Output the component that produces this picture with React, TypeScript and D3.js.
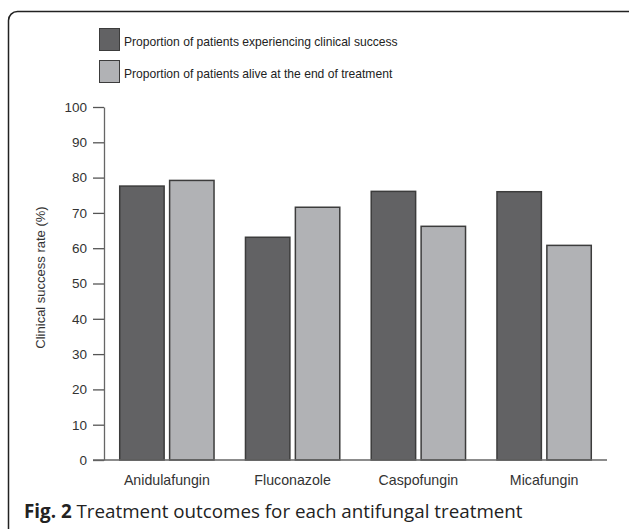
import React, { useEffect, useRef } from 'react';
import * as d3 from 'd3';

const categories = ['Anidulafungin', 'Fluconazole', 'Caspofungin', 'Micafungin'];
const seriesNames = [
    'Proportion of patients experiencing clinical success',
    'Proportion of patients alive at the end of treatment',
];
const clinicalSuccess = [77.6, 63.1, 76.1, 76.0];
const aliveAtEnd = [79.2, 71.6, 66.2, 60.8];
const yTicks = [0, 10, 20, 30, 40, 50, 60, 70, 80, 90, 100];

const colors = ['#626264', '#b1b2b5'];

const App: React.FC = () => {
    const ref = useRef<SVGSVGElement | null>(null);

    useEffect(() => {
        if (!ref.current) return;
        const svg = d3.select(ref.current);
        svg.selectAll('*').remove();

        const font = 'Liberation Sans, Arial, sans-serif';
        const left = 104;
        const right = 607;
        const top = 107;
        const bottom = 460;

        // frame
        svg.append('rect')
            .attr('x', 8.5).attr('y', 11.5)
            .attr('width', 630).attr('height', 530)
            .attr('rx', 9)
            .attr('fill', 'none')
            .attr('stroke', '#222')
            .attr('stroke-width', 1.5);

        const x0 = d3.scaleBand().domain(categories).range([left, right]).padding(0);
        const x1 = d3.scaleBand().domain(['a', 'b'])
            .range([0, x0.bandwidth()])
            .paddingInner(0.08)
            .paddingOuter(0.3);
        const y = d3.scaleLinear().domain([0, 100]).range([bottom, top]);

        // y axis
        const yAxis = d3.axisLeft(y).tickValues(yTicks).tickSize(11).tickPadding(6).tickSizeOuter(0);
        const gy = svg.append('g').attr('transform', `translate(${left},0)`).call(yAxis);
        gy.select('.domain').attr('stroke', '#666').attr('stroke-width', 1.3);
        gy.selectAll('.tick line').attr('stroke', '#555').attr('stroke-width', 1.3);
        gy.selectAll('.tick text')
            .attr('font-family', font).attr('font-size', 13.5).attr('fill', '#333');

        svg.append('text')
            .attr('transform', `translate(45,${(top + bottom) / 2 - 6}) rotate(-90)`)
            .attr('text-anchor', 'middle')
            .attr('font-family', font).attr('font-size', 13).attr('fill', '#333')
            .text('Clinical success rate (%)');

        // bars
        const rows = categories.map((c, i) => ({ c, vals: [clinicalSuccess[i], aliveAtEnd[i]] }));
        const groups = svg.append('g').selectAll('g').data(rows).enter().append('g')
            .attr('transform', (d) => `translate(${x0(d.c)},0)`);
        groups.selectAll('rect')
            .data((d) => d.vals.map((v, j) => ({ v, j })))
            .enter().append('rect')
            .attr('x', (d) => (x1(d.j === 0 ? 'a' : 'b') as number) + 0.75)
            .attr('y', (d) => y(d.v))
            .attr('width', x1.bandwidth() - 1.5)
            .attr('height', (d) => bottom - y(d.v))
            .attr('fill', (d) => colors[d.j])
            .attr('stroke', '#3c3c3c')
            .attr('stroke-width', 1.5);

        // x axis line (extends left as the 0 tick)
        svg.append('line')
            .attr('x1', 93).attr('x2', right)
            .attr('y1', bottom).attr('y2', bottom)
            .attr('stroke', '#666').attr('stroke-width', 1.3);

        svg.append('g').selectAll('text').data(categories).enter().append('text')
            .attr('x', (d) => (x0(d) as number) + x0.bandwidth() / 2)
            .attr('y', 484.5)
            .attr('text-anchor', 'middle')
            .attr('font-family', font).attr('font-size', 14.2).attr('fill', '#333')
            .text((d) => d);

        // legend
        const legend = svg.append('g').selectAll('g').data(seriesNames).enter().append('g')
            .attr('transform', (_d, i) => `translate(99,${28 + i * 32})`);
        legend.append('rect')
            .attr('x', 0.5).attr('y', 0.5).attr('width', 20).attr('height', 22)
            .attr('fill', (_d, i) => colors[i])
            .attr('stroke', '#3c3c3c').attr('stroke-width', 1);
        legend.append('text')
            .attr('x', 25).attr('y', 18.3)
            .attr('font-family', font).attr('font-size', 12.1).attr('fill', '#222')
            .text((d) => d);

        // caption
        const cap = svg.append('text')
            .attr('x', 24).attr('y', 518)
            .attr('font-family', 'Open Sans, sans-serif').attr('font-size', 18.8).attr('fill', '#222');
        cap.append('tspan').attr('font-weight', 'bold').text('Fig. 2');
        cap.append('tspan').text(' Treatment outcomes for each antifungal treatment');
    }, []);

    return (
        <svg ref={ref} width={629} height={529}
            style={{ position: 'absolute', left: 0, top: 0, background: '#fff' }} />
    );
};

export default App;
